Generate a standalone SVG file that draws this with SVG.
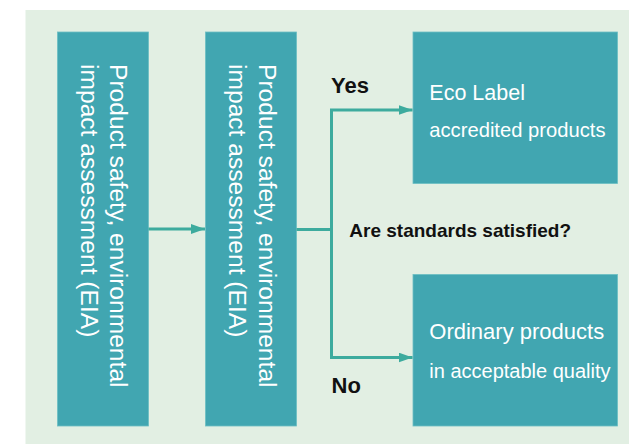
<svg xmlns="http://www.w3.org/2000/svg" width="629" height="444" viewBox="0 0 629 444">
<style>
.box{fill:#41a6b1;stroke:#6cbfc3;stroke-width:0.8}
.wt{fill:#ffffff;font-family:"Liberation Sans",Arial,sans-serif}
.rt{fill:#ffffff;font-family:"Liberation Sans",Arial,sans-serif;font-size:24.6px}
.bt{fill:#111111;font-family:"Liberation Sans",Arial,sans-serif;font-weight:bold}
.conn{fill:none;stroke:#3dab9e;stroke-width:3}
</style>
<defs>
<marker id="ah" markerWidth="14" markerHeight="10" refX="14" refY="5" orient="auto" markerUnits="userSpaceOnUse">
<path d="M0,0 L14,5 L0,10 Z" fill="#3dab9e"/>
</marker>
</defs>
<rect x="0" y="0" width="629" height="444" fill="#ffffff"/>
<rect x="25.5" y="10" width="603.5" height="434" fill="#e2efe3"/>
<g id="node-eia1">
<rect class="box" x="57.5" y="32" width="91" height="394"/>
<text class="rt" transform="translate(110,64) rotate(90)">Product safety, environmental</text>
<text class="rt" transform="translate(80.5,64) rotate(90)">impact assessment (EIA)</text>
</g>
<g id="node-eia2">
<rect class="box" x="205.5" y="32" width="91" height="394"/>
<text class="rt" transform="translate(258.5,64) rotate(90)">Product safety, environmental</text>
<text class="rt" transform="translate(229,64) rotate(90)">impact assessment (EIA)</text>
</g>
<g id="node-eco">
<rect class="box" x="413" y="32" width="204.5" height="151.5"/>
<text class="wt" x="429.3" y="100" font-size="21.5">Eco Label</text>
<text class="wt" x="429.3" y="136.7" font-size="20.2">accredited products</text>
</g>
<g id="node-ordinary">
<rect class="box" x="413" y="274.5" width="204.5" height="151.5"/>
<text class="wt" x="429.3" y="339.3" font-size="22">Ordinary products</text>
<text class="wt" x="429.3" y="378.3" font-size="20">in acceptable quality</text>
</g>
<g id="connectors">
<line class="conn" x1="148.5" y1="229" x2="205" y2="229" marker-end="url(#ah)"/>
<path class="conn" d="M296.5,229.5 H331.5"/>
<path class="conn" d="M331.5,110 V357.5 H412.5" marker-end="url(#ah)"/>
<line class="conn" x1="330" y1="110" x2="412.5" y2="110" marker-end="url(#ah)"/>
</g>
<g id="labels">
<text class="bt" x="331" y="93.3" font-size="22">Yes</text>
<text class="bt" x="331.5" y="392.7" font-size="22">No</text>
<text class="bt" x="349.3" y="236.7" font-size="19">Are standards satisfied?</text>
</g>
</svg>
